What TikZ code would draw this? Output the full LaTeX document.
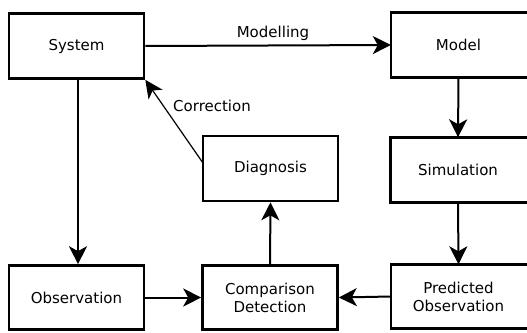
\documentclass[tikz,border=0pt]{standalone}
\usepackage{fontspec}
\setmainfont{DejaVu Sans}
\usetikzlibrary{arrows.meta}
\begin{document}
\begin{tikzpicture}[x=1pt,y=-1pt,
  boxline/.style={draw=black, line width=2.6pt},
  box/.style={boxline, fill=white, minimum width=135pt, minimum height=65pt, inner sep=0pt, align=center, font=\fontsize{15}{18}\selectfont},
  openbox/.style={draw=none, minimum width=135pt, minimum height=65pt, inner sep=0pt, align=center, font=\fontsize{15}{18}\selectfont},
  flow/.style={line width=2pt, -{Stealth[length=18pt,width=18pt,inset=5pt]}},
  thinflow/.style={line width=1.2pt, -{Stealth[length=18pt,width=17pt,inset=5pt]}},
  lbl/.style={font=\fontsize{15}{18}\selectfont, inner sep=0pt}]
\useasboundingbox (0,0) rectangle (527,332);
\clip (0,0) rectangle (527,332);
\fill[white] (0,0) rectangle (527,332);
\node[box] (sys) at (76.5,46) {System};
\node[openbox] (mod) at (458.5,45) {Model};
\node[box] (dia) at (270.5,168.5) {Diagnosis};
\node[openbox] (sim) at (458,170) {Simulation};
\node[box, minimum height=64pt] (obs) at (76.5,297.5) {Observation};
\node[box, minimum height=64pt] (cmp) at (270,297.5) {Comparison\\Detection};
\node[openbox, minimum height=64pt] (pre) at (458.5,296.5) {Predicted\\Observation};
\draw[boxline] (mod.south west) rectangle ([xshift=12pt]mod.north east);
\draw[boxline] (sim.south west) rectangle ([xshift=12pt]sim.north east);
\draw[boxline] (pre.south west) rectangle ([xshift=12pt]pre.north east);
\draw[flow] (sys.east) -- (mod.west);
\node[lbl] (mlab) at (273,33) {Modelling};
\draw[flow] (mod.south) -- (sim.north);
\draw[flow] (sim.south) -- (pre.north);
\draw[flow] (pre.west) -- (cmp.east);
\draw[flow] (obs.east) -- (cmp.west);
\draw[flow] (cmp.north) -- (dia.south);
\draw[flow] (sys.south -| 78,0) -- (obs.north -| 78,0);
\coordinate (cstart) at (203,163);
\draw[thinflow] (cstart) -- (sys.south east);
\node[lbl] (clab) at (212,106) {Correction};
\end{tikzpicture}
\end{document}
